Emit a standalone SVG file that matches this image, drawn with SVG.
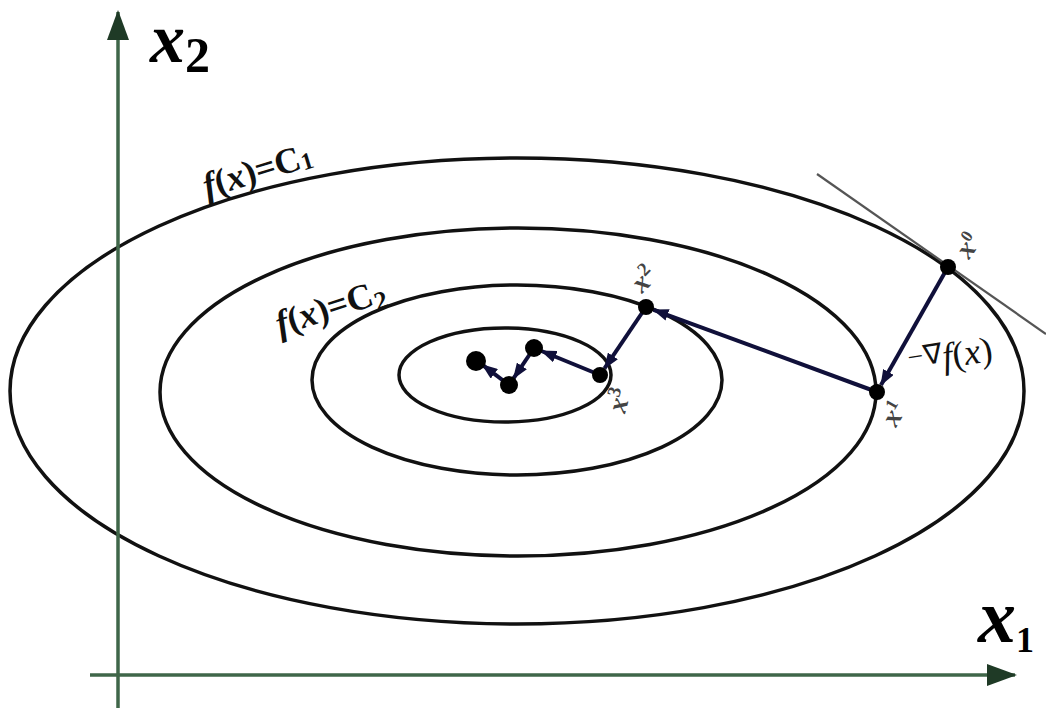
<svg xmlns="http://www.w3.org/2000/svg" width="1046" height="710" viewBox="0 0 1046 710">
<style>
.contour{fill:none;stroke:#111;stroke-width:3.5}
.axis{stroke:#3f6649;stroke-width:3.5;fill:none}
.step{stroke:#10103a;stroke-width:4;fill:none}
.dot{fill:#000}
text{font-family:'Liberation Serif','Times New Roman',Times,serif}
.lbl{fill:#111}
.pt{fill:#444;font-size:28px;font-weight:bold}
.axl{fill:#000;font-weight:bold}
</style>
<defs>
<marker id="ah" markerUnits="userSpaceOnUse" markerWidth="16" markerHeight="12" refX="15" refY="6" orient="auto">
<path d="M0,0 L16,6 L0,12 z" fill="#10103a"/>
</marker>
<marker id="axah" markerUnits="userSpaceOnUse" markerWidth="30" markerHeight="22" refX="28" refY="11" orient="auto">
<path d="M0,0 L30,11 L0,22 z" fill="#1f3a26"/>
</marker>
</defs>
<rect width="1046" height="710" fill="#fff"/>
<g id="contours">
<ellipse class="contour" cx="517" cy="391" rx="507" ry="233"/>
<ellipse class="contour" cx="518" cy="392" rx="358" ry="164"/>
<ellipse class="contour" cx="517" cy="380" rx="205" ry="95"/>
<ellipse class="contour" cx="505" cy="375" rx="106" ry="47"/>
</g>
<g id="axes">
<line class="axis" x1="118" y1="708" x2="118" y2="12" marker-end="url(#axah)"/>
<line class="axis" x1="90" y1="675" x2="1015" y2="675" marker-end="url(#axah)"/>
</g>
<g id="tangent">
<line x1="817" y1="174" x2="1046" y2="334" stroke="#555" stroke-width="2.2"/>
</g>
<g id="connectors">
<line class="step" x1="948" y1="267" x2="881" y2="385" marker-end="url(#ah)"/>
<line class="step" x1="877" y1="392" x2="653.5" y2="309.8" marker-end="url(#ah)"/>
<line class="step" x1="646" y1="307" x2="604.5" y2="368.4" marker-end="url(#ah)"/>
<line class="step" x1="600" y1="375" x2="541.4" y2="351" marker-end="url(#ah)"/>
<line class="step" x1="534" y1="348" x2="513.5" y2="378.4" marker-end="url(#ah)"/>
<line class="step" x1="509" y1="385" x2="482.4" y2="364.8" marker-end="url(#ah)"/>
</g>
<g id="x0"><circle class="dot" cx="948" cy="267" r="8"/>
<text class="pt" font-style="italic" transform="translate(969,260) rotate(-55)">x<tspan dy="-10" font-size="17" font-style="normal">0</tspan></text></g>
<g id="x1"><circle class="dot" cx="877" cy="392" r="8"/>
<text class="pt" font-style="italic" transform="translate(896,428) rotate(-60)">x<tspan dy="-10" font-size="17" font-style="normal">1</tspan></text></g>
<g id="x2"><circle class="dot" cx="646" cy="307" r="8"/>
<text class="pt" font-style="italic" transform="translate(642,294) rotate(-45)">x<tspan dy="-10" font-size="19" font-style="normal">2</tspan></text></g>
<g id="x3"><circle class="dot" cx="600" cy="375" r="8"/>
<text class="pt" font-style="italic" transform="translate(625,414) rotate(-75)">x<tspan dy="-10" font-size="19" font-style="normal">3</tspan></text></g>
<g id="x4"><circle class="dot" cx="534" cy="348" r="9"/></g>
<g id="x5"><circle class="dot" cx="509" cy="385" r="9"/></g>
<g id="x6"><circle class="dot" cx="476" cy="361" r="10"/></g>
<g id="labels">
<text class="lbl" font-size="36" transform="translate(910,374) rotate(-9)"><tspan dy="-7" font-size="28">−∇</tspan><tspan dy="7" font-style="italic">f</tspan>(<tspan font-style="italic">x</tspan>)</text>
<text class="lbl" font-size="36" font-weight="bold" transform="translate(207,198) rotate(-17)"><tspan font-style="italic">f</tspan>(<tspan font-style="italic">x</tspan>)=C<tspan font-size="24" dy="2">1</tspan></text>
<text class="lbl" font-size="36" font-weight="bold" transform="translate(280,336) rotate(-18)"><tspan font-style="italic">f</tspan>(<tspan font-style="italic">x</tspan>)=C<tspan font-size="26" dy="6">2</tspan></text>
<text class="axl" font-size="70" font-style="italic" x="150" y="62">x<tspan font-style="normal" font-size="50" dy="10">2</tspan></text>
<text class="axl" font-size="76" font-style="italic" x="978" y="642">x<tspan font-style="normal" font-size="36" dy="10">1</tspan></text>
</g>
</svg>
